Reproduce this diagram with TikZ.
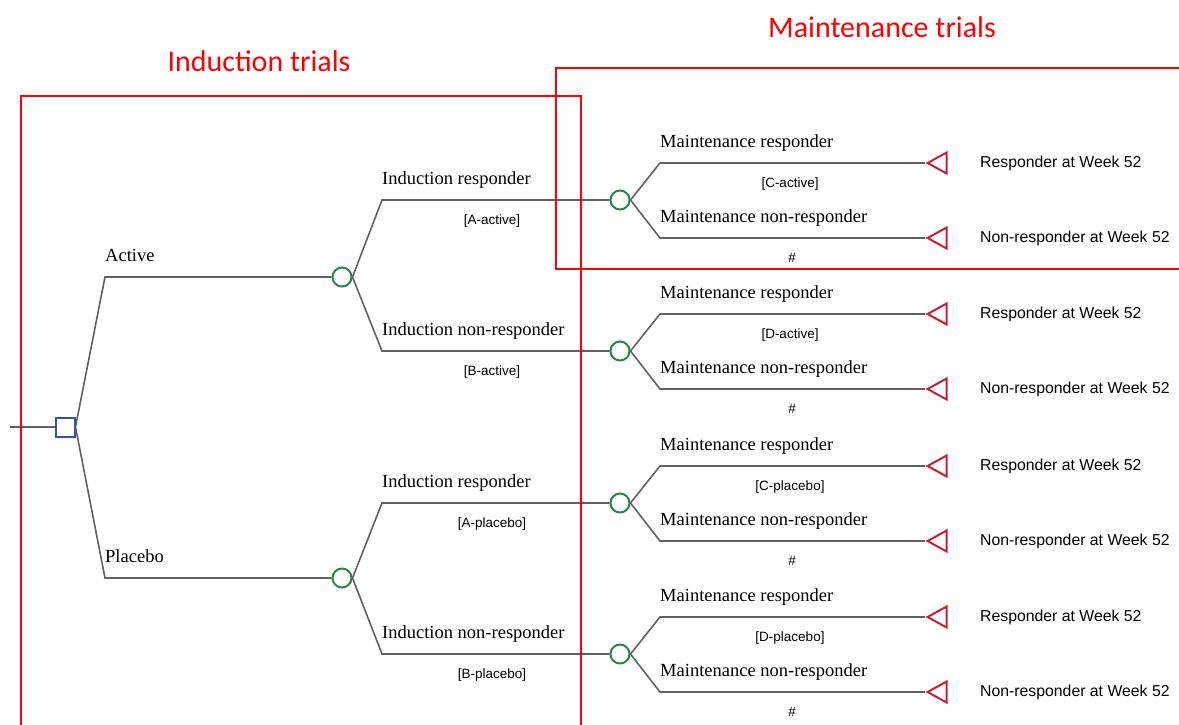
\documentclass[tikz,border=0pt]{standalone}
\usepackage{fontspec}
\setmainfont{Liberation Serif}
\setsansfont{Liberation Sans}
\newfontfamily\titlefont{Carlito}
\usetikzlibrary{positioning}
\usetikzlibrary{shapes.geometric}

\definecolor{decblue}{RGB}{47,84,165}
\definecolor{chgreen}{RGB}{40,135,80}
\definecolor{termred}{RGB}{200,30,55}

\begin{document}
\begin{tikzpicture}[x=1pt, y=-1pt,
		branch/.style={draw=black!62, line width=1.6pt},
		decision/.style={draw=decblue, line width=2pt, minimum size=19pt, inner sep=0pt},
		chance/.style={circle, draw=chgreen, line width=2pt, minimum size=19pt, inner sep=0pt},
		terminal/.style={isosceles triangle, isosceles triangle stretches,
			shape border rotate=180, draw=termred, line width=2pt,
			minimum width=21pt, minimum height=19pt, inner sep=0pt},
		arm/.style={font=\fontsize{18.5}{20}\selectfont, anchor=base west, inner sep=0pt},
		prob/.style={font=\sffamily\fontsize{13.5}{15}\selectfont, inner sep=0pt},
		outcome/.style={font=\sffamily\fontsize{15.8}{17}\selectfont, anchor=west, inner sep=0pt},
		trialbox/.style={draw=red, line width=2.5pt},
		trialtitle/.style={font=\titlefont\fontsize{30}{34}\selectfont, text=red, inner sep=0pt}]
		\useasboundingbox (0,0) rectangle (1179,724);

		% treatment decision
		\coordinate (entry) at (10,427);
		\node [decision] (treat) at (65,427) {};
		\node [chance] (active) at (342,277) {};
		\node [chance] (placebo) at (342,578) {};
		\coordinate (active bend) at (105,277);
		\coordinate (placebo bend) at (105,578);
		\node [arm] (active label) at (105,261) {Active};
		\node [arm] (placebo label) at (105,562) {Placebo};
		\draw [branch] (entry) -- (treat.west);
		\draw [branch] (treat.east) -- (active bend) -- (active.west);
		\draw [branch] (treat.east) -- (placebo bend) -- (placebo.west);

		% induction outcomes
		\foreach \m/\y/\src/\lab/\ind in {ma/200/active/A-active/responder,
			mb/351/active/B-active/non-responder,
			mc/503/placebo/A-placebo/responder,
			md/654/placebo/B-placebo/non-responder} {
			\node [chance] (\m) at (620,\y) {};
			\coordinate (\m bend) at (382,\y);
			\node [arm] (\m label) at (382,{\y-16}) {Induction \ind};
			\node [prob] (\m prob) at (492,{\y+21}) {[\lab]};
			\draw [branch] (\src.east) -- (\m bend) -- (\m.west);
		}

		% maintenance outcomes
		\foreach \m/\y/\lab in {ma/200/C-active, mb/351/D-active,
			mc/503/C-placebo, md/654/D-placebo} {
			\coordinate (\m r bend) at (660,{\y-37});
			\coordinate (\m n bend) at (660,{\y+38});
			\node [terminal, anchor=apex] (\m r end) at (925,{\y-37}) {};
			\node [terminal, anchor=apex] (\m n end) at (925,{\y+38}) {};
			\node [arm] (\m r label) at (660,{\y-53}) {Maintenance responder};
			\node [arm] (\m n label) at (660,{\y+22}) {Maintenance non-responder};
			\node [prob] (\m r prob) at (790,{\y-16}) {[\lab]};
			\node [prob] (\m n prob) at (792,{\y+58}) {\#};
			\node [outcome] (\m r out) at (980,{\y-37}) {Responder at Week 52};
			\node [outcome] (\m n out) at (980,{\y+38}) {Non-responder at Week 52};
			\draw [branch] (\m.east) -- (\m r bend) -- (\m r end.apex);
			\draw [branch] (\m.east) -- (\m n bend) -- (\m n end.apex);
		}

		% trial phases
		\draw [trialbox] (21,96) rectangle (581,760);
		\draw [trialbox] (556,68) rectangle (1200,269);
		\node [trialtitle] (induction title) at (259,61) {Induction trials};
		\node [trialtitle] (maintenance title) at (882,27) {Maintenance trials};
\end{tikzpicture}
\end{document}
